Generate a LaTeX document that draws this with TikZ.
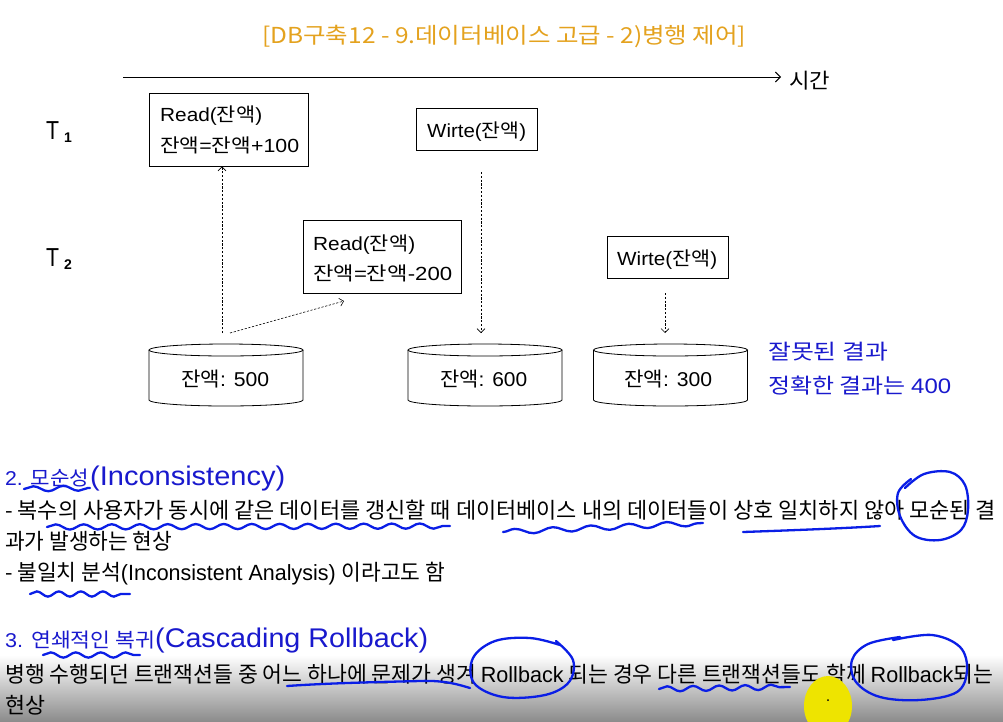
\documentclass[tikz,border=0pt]{standalone}
\usepackage{fontspec}
\setmainfont{Noto Sans CJK KR}
\newfontfamily\lib{Liberation Sans}
\usetikzlibrary{arrows.meta,decorations.pathmorphing}
\definecolor{titleor}{RGB}{228,162,30}
\definecolor{txtblue}{RGB}{25,25,205}
\definecolor{penblue}{RGB}{10,30,230}
\definecolor{cursor}{RGB}{238,228,0}
\newcommand{\hw}[2]{\resizebox{#1pt}{\height}{#2}}
\newcommand{\fs}[1]{\fontsize{#1}{#1}\selectfont}
\newcommand{\la}[1]{{\lib #1}}
\begin{document}
\begin{tikzpicture}[x=1pt,y=-1pt,
  txt/.style={inner sep=0pt, anchor=base west},
  opbox/.style={draw, line width=0.8pt, inner sep=0pt},
  dsharrow/.style={line width=0.6pt, dash pattern=on 2.2pt off 1.6pt, -{Straight Barb[length=4pt,width=8pt]}},
  wave/.style={penblue, line width=2.3pt, line cap=round, decorate, decoration={snake, amplitude=2.6pt, segment length=#1}},
  pen/.style={penblue, line width=2.3pt, line cap=round, line join=round}
]
\useasboundingbox (0,0) rectangle (1003,721);
\fill[white] (0,0) rectangle (1003,721);
\shade[top color=white, bottom color=black!45] (0,655) rectangle (1003,721);

% title
\node[txt, font=\fs{22}, text=titleor] (title) at (262,43) {\hw{484}{[DB구축12 - 9.데이터베이스 고급 - 2)병행 제어]}};

% time axis
\coordinate (t0) at (123,77);
\coordinate (t1) at (781,77);
\draw[line width=0.9pt, -{Straight Barb[length=5pt,width=10pt]}] (t0) -- (t1);
\node[txt, font=\fs{21}] (time) at (789,88) {\hw{41}{시간}};

% transaction labels
\node[txt, font=\lib\fs{26}] (T1) at (46,139) {\hw{13}{T}\hspace{5pt}\raisebox{-3pt}{\fs{14}\bfseries 1}};
\node[txt, font=\lib\fs{26}] (T2) at (46,266) {\hw{13}{T}\hspace{5pt}\raisebox{-3pt}{\fs{14}\bfseries 2}};

% operation boxes
\node[opbox, minimum width=159pt, minimum height=73pt] (b1) at (228.5,129.5) {};
\node[opbox, minimum width=121pt, minimum height=42pt] (b2) at (476.5,129) {};
\node[opbox, minimum width=158pt, minimum height=73pt] (b3) at (382,256.5) {};
\node[opbox, minimum width=121pt, minimum height=42pt] (b4) at (667.5,257) {};

\node[txt, font=\fs{19}] (b1a) at (160,121) {\hw{102}{\la{Read(}잔액\la{)}}};
\node[txt, font=\fs{19}] (b1b) at (160,152) {\hw{139}{잔액\la{=}잔액\la{+100}}};
\node[txt, font=\fs{19}] (b2a) at (427,137) {\hw{99}{\la{Wirte(}잔액\la{)}}};
\node[txt, font=\fs{19}] (b3a) at (313,250) {\hw{102}{\la{Read(}잔액\la{)}}};
\node[txt, font=\fs{19}] (b3b) at (313,280) {\hw{139}{잔액\la{=}잔액\la{-200}}};
\node[txt, font=\fs{19}] (b4a) at (617,265) {\hw{100}{\la{Wirte(}잔액\la{)}}};

% cylinders
\foreach \n/\cx in {c1/226, c2/485, c3/670.5}{
  \node[minimum width=154pt, minimum height=56pt, inner sep=0pt] (\n) at (\cx,375) {};
  \draw[line width=0.8pt] (\cx,350) ellipse [x radius=77, y radius=6];
  \draw[line width=0.8pt] (\cx-77,350) -- (\cx-77,400) arc[start angle=180, end angle=0, x radius=77, y radius=6] -- (\cx+77,350);
}
\node[txt, font=\fs{20}] (v1) at (181,386) {\hw{88}{잔액\la{: 500}}};
\node[txt, font=\fs{20}] (v2) at (440,386) {\hw{87}{잔액\la{: 600}}};
\node[txt, font=\fs{20}] (v3) at (624,386) {\hw{88}{잔액\la{: 300}}};

% dashed arrows
\coordinate (a0) at (222,333);
\coordinate (a1) at (230,333);
\draw[dsharrow] (a0) -- (b1.south -| a0);
\draw[dsharrow] (a1) -- (344,301);
\coordinate (w1) at (481,172);
\coordinate (w2) at (665,293);
\draw[dsharrow] (w1) -- (481,333);
\draw[dsharrow] (w2) -- (665,333);

% blue result text
\node[txt, font=\fs{21}, text=txtblue] (r1) at (768,359) {\hw{120}{잘못된 결과}};
\node[txt, font=\fs{21}, text=txtblue] (r2) at (768,393) {\hw{183}{정확한 결과는 \la{400}}};

% section 2
\node[txt, font=\fs{20}, text=txtblue] (s2) at (5,485) {\hw{84}{\la{2. }모순성}};
\node[txt, font=\lib\fs{27}, text=txtblue] (s2e) at (90,485) {\hw{195}{(Inconsistency)}};
\node[txt, font=\fs{22}] (l1) at (5,518) {\hw{990}{- 복수의 사용자가 동시에 같은 데이터를 갱신할 때 데이터베이스 내의 데이터들이 상호 일치하지 않아 모순된 결}};
\node[txt, font=\fs{22}] (l2) at (5,549) {\hw{167}{과가 발생하는 현상}};
\node[txt, font=\fs{22}] (l3) at (5,580) {\hw{440}{- 불일치 분석\la{(Inconsistent Analysis) }이라고도 함}};

% section 3
\node[txt, font=\fs{20}, text=txtblue] (s3) at (5,647) {\hw{150}{\la{3. }연쇄적인 복귀}};
\node[txt, font=\lib\fs{27}, text=txtblue] (s3e) at (155,647) {\hw{273}{(Cascading Rollback)}};
\node[txt, font=\fs{22}] (l4) at (5,682) {\hw{988}{병행 수행되던 트랜잭션들 중 어느 하나에 문제가 생겨 \la{Rollback} 되는 경우 다른 트랜잭션들도 함께 \la{Rollback}되는}};
\node[txt, font=\fs{22}] (l5) at (5,713) {\hw{40}{현상}};

% handwritten annotations
\draw[wave=30pt] (24,489) -- (90,488);
\draw[wave=28pt] (47,527) -- (450,526);
\draw[wave=38pt] (503,532) -- (703,523);
\draw[pen] (743,532) .. controls (800,530) and (850,528) .. (880,526);
\draw[pen] plot[smooth, tension=0.6] coordinates {(905,488) (924,474) (950,472) (965,485) (968,510) (961,530) (940,540) (915,536) (900,516) (898,493) (911,479)};
\draw[wave=22pt] (30,594) -- (130,594);
\draw[wave=25pt] (43,655) -- (140,655);
\draw[pen] (287,686) .. controls (330,683) and (380,682) .. (420,681) .. controls (445,680) and (460,685) .. (470,688);
\draw[pen] plot[smooth, tension=0.6] coordinates {(560,645) (530,638) (495,641) (473,658) (474,683) (503,697) (545,695) (569,682) (573,660) (556,641)};
\draw[wave=26pt] (659,689) -- (790,687);
\draw[pen] plot[smooth, tension=0.6] coordinates {(893,640) (932,635) (960,647) (967,670) (957,692) (920,700) (880,697) (856,682) (852,660) (868,644) (900,637)};

% cursor
\fill[cursor] (828,706) ellipse [x radius=24, y radius=30];
\fill[black] (828,700) circle [radius=1];
\end{tikzpicture}
\end{document}
